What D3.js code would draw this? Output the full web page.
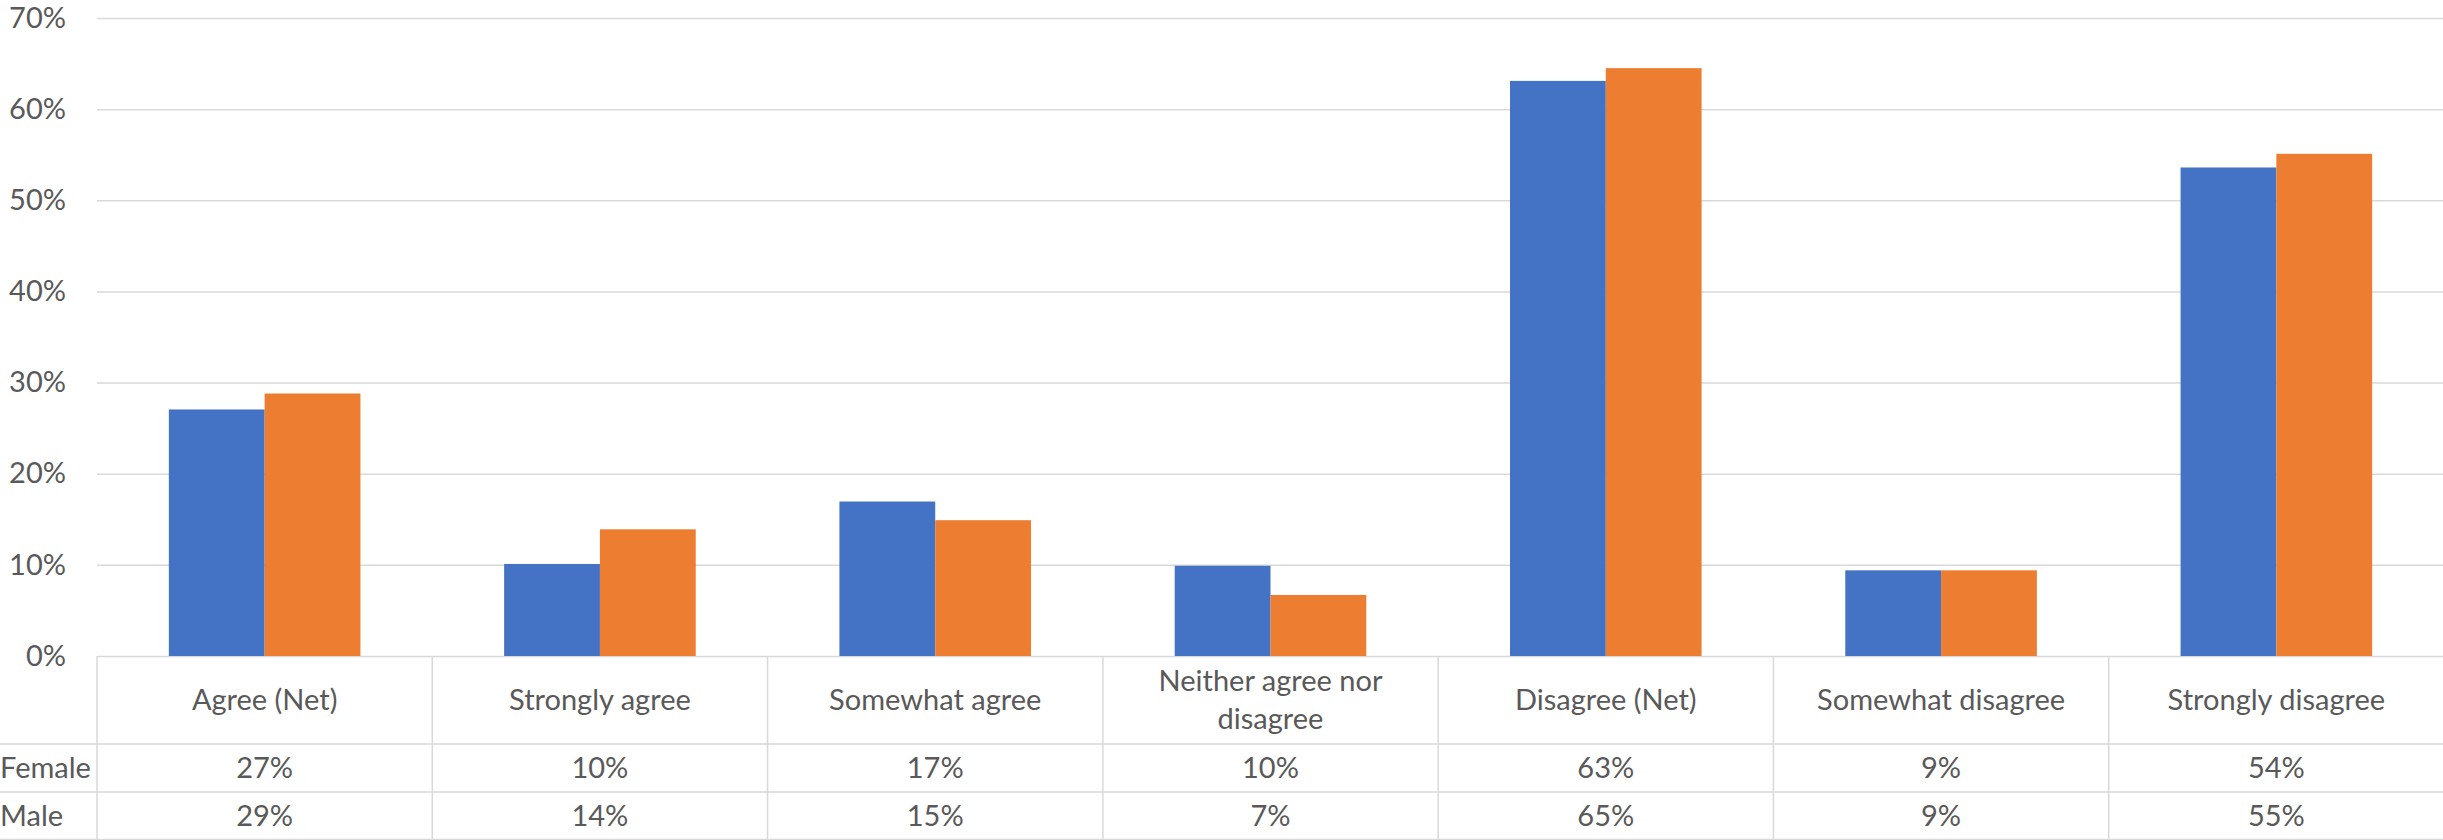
<!DOCTYPE html>
<html>
<head>
<meta charset="utf-8">
<script src="https://cdn.jsdelivr.net/npm/d3@7"></script>
<style>
  body { margin: 0; background: #fff; }
  svg { display: block; }
</style>
</head>
<body>
<div id="chart"></div>
<script>
//Chart data
var categories = ["Agree (Net)", "Strongly agree", "Somewhat agree", "Neither agree nor disagree",
                  "Disagree (Net)", "Somewhat disagree", "Strongly disagree"];
var seriesNames = ["Female", "Male"];
var female = [0.2705, 0.101, 0.1695, 0.099, 0.631, 0.094, 0.536];
var male = [0.288, 0.139, 0.149, 0.067, 0.645, 0.094, 0.551];
var femaleLabels = ["27%", "10%", "17%", "10%", "63%", "9%", "54%"];
var maleLabels = ["29%", "14%", "15%", "7%", "65%", "9%", "55%"];
var yTicks = [0, 0.1, 0.2, 0.3, 0.4, 0.5, 0.6, 0.7];

//Set some initial values
var W = 2443, H = 840,
    plotLeft = 97, plotRight = 2444,
    plotTop = 18, zeroY = 656,
    catRowBottom = 744, rowH = 48,
    font = "Lato, 'Open Sans', sans-serif",
    fontSize = "29px",
    textCol = "#595959",
    lineCol = "#d9d9d9",
    colours = ["#4472C4", "#ED7D31"];

var svg = d3.select("#chart").append("svg")
    .attr("width", W)
    .attr("height", H);

//Scales
var x = d3.scaleBand()
    .domain(categories)
    .range([plotLeft, plotRight]);
var xs = d3.scaleBand()
    .domain(seriesNames)
    .range([0, x.bandwidth()])
    .paddingInner(0)
    .paddingOuter(0.75);
var y = d3.scaleLinear()
    .domain([0, 0.7])
    .range([zeroY, plotTop]);

//Y axis with gridlines
var yAxis = svg.append("g")
    .attr("transform", "translate(" + plotLeft + ",0)")
    .call(d3.axisLeft(y)
        .tickValues(yTicks)
        .tickFormat(d3.format(".0%"))
        .tickSize(-(plotRight - plotLeft))
        .tickPadding(31));
yAxis.select(".domain").remove();
yAxis.selectAll(".tick line")
    .attr("stroke", lineCol)
    .attr("stroke-width", 1.5);
yAxis.selectAll(".tick text")
    .attr("fill", textCol)
    .style("font-family", font)
    .style("font-size", fontSize);

//Bars
var rows = categories.map(function(c, i) {
    return { cat: c, values: [female[i], male[i]] };
});
var groups = svg.selectAll(".group")
    .data(rows)
    .enter()
    .append("g")
    .attr("class", "group")
    .attr("transform", function(d) { return "translate(" + x(d.cat) + ",0)"; });
groups.selectAll("rect")
    .data(function(d) { return d.values.map(function(v, j) { return { s: seriesNames[j], v: v, j: j }; }); })
    .enter()
    .append("rect")
    .attr("x", function(d) { return xs(d.s); })
    .attr("width", xs.bandwidth())
    .attr("y", function(d) { return y(d.v); })
    .attr("height", function(d) { return y(0) - y(d.v); })
    .attr("fill", function(d) { return colours[d.j]; });

//Data table
var table = svg.append("g");
var hLines = [catRowBottom, catRowBottom + rowH, catRowBottom + 2 * rowH - 0.5];
table.selectAll(".hline")
    .data(hLines)
    .enter()
    .append("line")
    .attr("x1", 0)
    .attr("x2", W)
    .attr("y1", function(d) { return d; })
    .attr("y2", function(d) { return d; })
    .attr("stroke", lineCol)
    .attr("stroke-width", 1.5);
table.selectAll(".vline")
    .data(categories.map(function(c) { return x(c); }).concat([plotRight]))
    .enter()
    .append("line")
    .attr("x1", function(d) { return d; })
    .attr("x2", function(d) { return d; })
    .attr("y1", zeroY)
    .attr("y2", H)
    .attr("stroke", lineCol)
    .attr("stroke-width", 1.5);

//Category labels, wrapped to the cell
var catLabels = table.selectAll(".cat")
    .data(categories)
    .enter()
    .append("text")
    .attr("text-anchor", "middle")
    .attr("fill", textCol)
    .style("font-family", font)
    .style("font-size", fontSize);
catLabels.each(function(c) {
    var el = d3.select(this), words = c.split(" "), lines = [], line = [];
    var tmp = el.append("tspan");
    words.forEach(function(w) {
        line.push(w);
        tmp.text(line.join(" "));
        if (tmp.node().getComputedTextLength() > 300 && line.length > 1) {
            line.pop();
            lines.push(line.join(" "));
            line = [w];
        }
    });
    lines.push(line.join(" "));
    tmp.remove();
    var cx = x(c) + x.bandwidth() / 2,
        cy = (zeroY + catRowBottom) / 2,
        lh = 38;
    lines.forEach(function(l, k) {
        el.append("tspan")
            .attr("x", cx)
            .attr("y", cy + (k - (lines.length - 1) / 2) * lh)
            .attr("dy", "0.35em")
            .text(l);
    });
});

//Series rows
var seriesLabels = [femaleLabels, maleLabels];
seriesNames.forEach(function(s, j) {
    var cy = catRowBottom + rowH * j + rowH / 2;
    table.append("text")
        .attr("x", 0)
        .attr("y", cy)
        .attr("dy", "0.35em")
        .attr("fill", textCol)
        .style("font-family", font)
        .style("font-size", fontSize)
        .text(s);
    table.selectAll(".val" + j)
        .data(categories)
        .enter()
        .append("text")
        .attr("x", function(c) { return x(c) + x.bandwidth() / 2; })
        .attr("y", cy)
        .attr("dy", "0.35em")
        .attr("text-anchor", "middle")
        .attr("fill", textCol)
        .style("font-family", font)
        .style("font-size", fontSize)
        .text(function(c, i) { return seriesLabels[j][i]; });
});
</script>
</body>
</html>
